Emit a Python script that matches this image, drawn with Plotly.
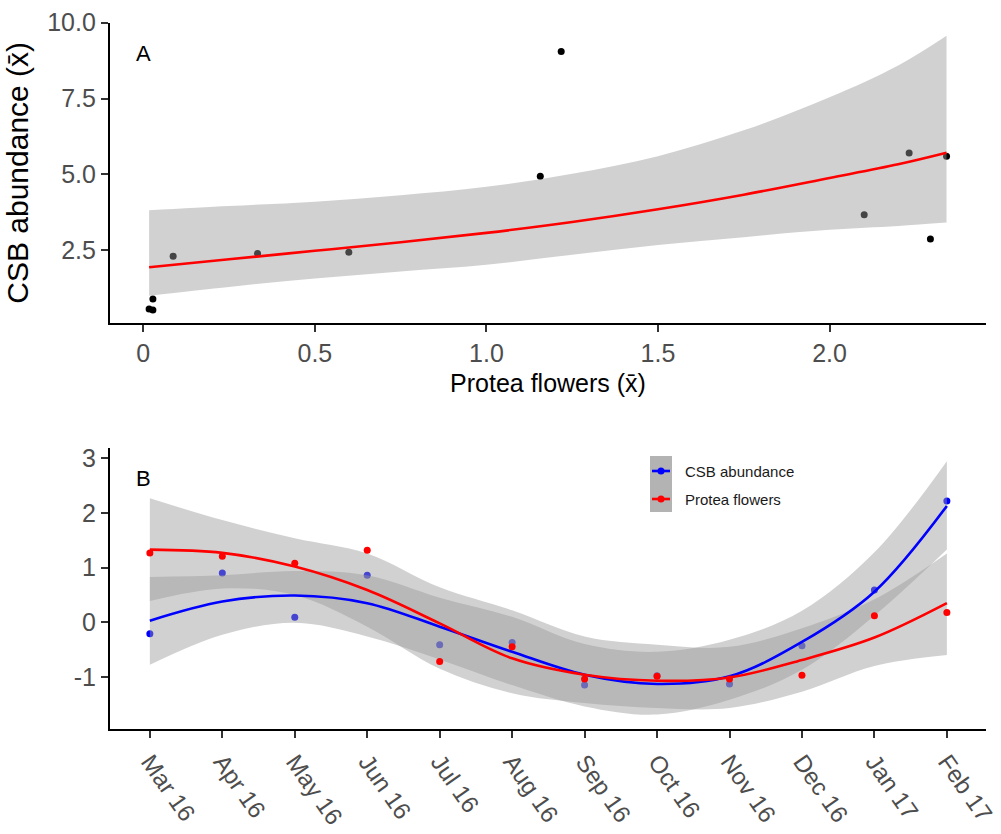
import plotly.graph_objects as go

# ---------------- Panel A: CSB abundance vs Protea flowers ----------------
flowers_x = [0.017, 0.028, 0.028, 0.087, 0.333, 0.599, 1.157, 1.218, 2.101, 2.232, 2.294, 2.341]
csb_y = [0.56, 0.53, 0.89, 2.30, 2.39, 2.43, 4.94, 9.05, 3.67, 5.70, 2.87, 5.60]

fit_x = [0.017, 0.25, 0.5, 0.75, 1.0, 1.25, 1.5, 1.75, 2.0, 2.2, 2.341]
fit_y = [1.94, 2.20, 2.48, 2.76, 3.07, 3.43, 3.85, 4.33, 4.88, 5.33, 5.71]
fit_lo = [1.00, 1.29, 1.57, 1.80, 2.02, 2.35, 2.67, 2.93, 3.17, 3.30, 3.41]
fit_hi = [3.82, 3.96, 4.10, 4.31, 4.59, 5.02, 5.60, 6.45, 7.54, 8.59, 9.57]

a_xticks = [0, 0.5, 1.0, 1.5, 2.0]
a_xticklabels = ["0", "0.5", "1.0", "1.5", "2.0"]
a_yticks = [2.5, 5.0, 7.5, 10.0]
a_yticklabels = ["2.5", "5.0", "7.5", "10.0"]

# ---------------- Panel B: monthly standardised series ----------------
months = ["Mar 16", "Apr 16", "May 16", "Jun 16", "Jul 16", "Aug 16",
          "Sep 16", "Oct 16", "Nov 16", "Dec 16", "Jan 17", "Feb 17"]
month_idx = list(range(len(months)))

csb_z = [-0.21, 0.90, 0.09, 0.86, -0.41, -0.37, -1.15, -0.98, -1.13, -0.43, 0.59, 2.22]
protea_z = [1.27, 1.21, 1.08, 1.32, -0.72, -0.45, -1.04, -0.99, -1.04, -0.97, 0.12, 0.18]

csb_smooth = [0.03, 0.38, 0.49, 0.35, -0.08, -0.54, -0.96, -1.13, -0.99, -0.36, 0.56, 2.13]
csb_lo = [-0.78, -0.23, -0.01, -0.26, -0.68, -1.15, -1.54, -1.69, -1.42, -0.87, 0.12, 1.33]
csb_hi = [0.83, 0.86, 0.94, 0.86, 0.45, 0.10, -0.40, -0.54, -0.32, 0.21, 1.28, 2.95]

protea_smooth = [1.33, 1.27, 1.02, 0.59, -0.02, -0.66, -0.96, -1.07, -1.01, -0.69, -0.28, 0.35]
protea_lo = [0.39, 0.62, 0.50, -0.08, -0.85, -1.30, -1.48, -1.57, -1.57, -1.27, -0.80, -0.60]
protea_hi = [2.27, 1.87, 1.54, 1.26, 0.64, 0.22, -0.26, -0.41, -0.45, -0.11, 0.42, 1.26]

b_yticks = [-1, 0, 1, 2, 3]
b_yticklabels = ["-1", "0", "1", "2", "3"]

series_names = ["CSB abundance", "Protea flowers"]

BAND = "rgba(153,153,153,0.45)"
TICK_COLOR = "#4d4d4d"
FONT = "Liberation Sans, Arial, Helvetica, sans-serif"

fig = go.Figure()

# Panel A: points, confidence ribbon, fitted curve
fig.add_trace(go.Scatter(x=flowers_x, y=csb_y, mode="markers",
                         marker=dict(color="black", size=7),
                         xaxis="x", yaxis="y", showlegend=False, hoverinfo="skip"))
fig.add_trace(go.Scatter(x=fit_x, y=fit_lo, mode="lines", line=dict(width=0, shape="spline"),
                         xaxis="x", yaxis="y", showlegend=False, hoverinfo="skip"))
fig.add_trace(go.Scatter(x=fit_x, y=fit_hi, mode="lines", line=dict(width=0, shape="spline"),
                         fill="tonexty", fillcolor=BAND,
                         xaxis="x", yaxis="y", showlegend=False, hoverinfo="skip"))
fig.add_trace(go.Scatter(x=fit_x, y=fit_y, mode="lines",
                         line=dict(color="red", width=2.6, shape="spline"),
                         xaxis="x", yaxis="y", showlegend=False))

# Panel B: CSB points sit beneath the ribbons
fig.add_trace(go.Scatter(x=month_idx, y=csb_z, mode="markers",
                         marker=dict(color="blue", size=7),
                         xaxis="x2", yaxis="y2", showlegend=False))
for lo, hi in [(csb_lo, csb_hi), (protea_lo, protea_hi)]:
    fig.add_trace(go.Scatter(x=month_idx, y=lo, mode="lines", line=dict(width=0, shape="spline"),
                             xaxis="x2", yaxis="y2", showlegend=False, hoverinfo="skip"))
    fig.add_trace(go.Scatter(x=month_idx, y=hi, mode="lines", line=dict(width=0, shape="spline"),
                             fill="tonexty", fillcolor=BAND,
                             xaxis="x2", yaxis="y2", showlegend=False, hoverinfo="skip"))
fig.add_trace(go.Scatter(x=month_idx, y=csb_smooth, mode="lines", name=series_names[0],
                         line=dict(color="blue", width=2.6, shape="spline"),
                         xaxis="x2", yaxis="y2", showlegend=False))
fig.add_trace(go.Scatter(x=month_idx, y=protea_smooth, mode="lines", name=series_names[1],
                         line=dict(color="red", width=2.6, shape="spline"),
                         xaxis="x2", yaxis="y2", showlegend=False))
fig.add_trace(go.Scatter(x=month_idx, y=protea_z, mode="markers",
                         marker=dict(color="red", size=7),
                         xaxis="x2", yaxis="y2", showlegend=False))

axis_common = dict(showline=True, linecolor="black", linewidth=2.2, ticks="outside",
                   ticklen=7, tickwidth=1.6, tickcolor="#333333", showgrid=False,
                   zeroline=False, automargin=False, ticklabeloverflow="allow",
                   tickfont=dict(family=FONT, size=25, color=TICK_COLOR))

fig.update_layout(
    width=1001, height=834,
    margin=dict(l=110, r=15, t=0, b=0, autoexpand=False),
    paper_bgcolor="white", plot_bgcolor="white",
    font=dict(family=FONT, color="black"),
    xaxis=dict(domain=[0, 1], range=[-0.097, 2.456], anchor="y",
               tickvals=a_xticks, ticktext=a_xticklabels,
               title=dict(text="Protea flowers (x\u0304)", font=dict(size=25, color="black"), standoff=8),
               **axis_common),
    yaxis=dict(domain=[0.6127, 0.9728], range=[0.1, 10.0], anchor="x",
               tickvals=a_yticks, ticktext=a_yticklabels,
               title=dict(text="CSB abundance (x\u0304)", font=dict(size=30, color="black"), standoff=10),
               **axis_common),
    xaxis2=dict(domain=[0, 1], range=[-0.55, 11.54], anchor="y2",
                tickvals=month_idx, ticktext=months, tickangle=55,
                **axis_common),
    yaxis2=dict(domain=[0.1255, 0.4628], range=[-1.96, 3.19], anchor="x2",
                tickvals=b_yticks, ticktext=b_yticklabels,
                **axis_common),
)
fig.update_xaxes(tickfont=dict(family=FONT, size=24, color=TICK_COLOR), selector=dict(anchor="y2"))

# Panel letters
fig.add_annotation(text="A", x=0, y=8.98, xref="x", yref="y", showarrow=False,
                   font=dict(size=22, color="black"))
fig.add_annotation(text="B", x=-0.09, y=2.64, xref="x2", yref="y2", showarrow=False,
                   font=dict(size=22, color="black"))

# Legend for panel B: grey key column with line + dot symbols
def px_x(p):
    return (p - 110) / 876.0


def px_y(p):
    return 1 - p / 834.0


fig.add_shape(type="rect", xref="paper", yref="paper",
              x0=px_x(650), x1=px_x(672), y0=px_y(512), y1=px_y(456),
              fillcolor="#b3b3b3", line=dict(width=0), layer="above")
for name, color, ypx in [(series_names[0], "blue", 471), (series_names[1], "red", 499)]:
    fig.add_shape(type="line", xref="paper", yref="paper",
                  x0=px_x(652), x1=px_x(670), y0=px_y(ypx), y1=px_y(ypx),
                  line=dict(color=color, width=2.6), layer="above")
    fig.add_shape(type="circle", xref="paper", yref="paper",
                  xsizemode="pixel", ysizemode="pixel",
                  xanchor=px_x(661), yanchor=px_y(ypx),
                  x0=-3.5, x1=3.5, y0=-3.5, y1=3.5,
                  fillcolor=color, line=dict(width=0), layer="above")
    fig.add_annotation(text=name, xref="paper", yref="paper",
                       x=px_x(683), y=px_y(ypx), xanchor="left", yanchor="middle",
                       showarrow=False, font=dict(size=15, color="#1a1a1a"))

fig.write_html("out.html")
